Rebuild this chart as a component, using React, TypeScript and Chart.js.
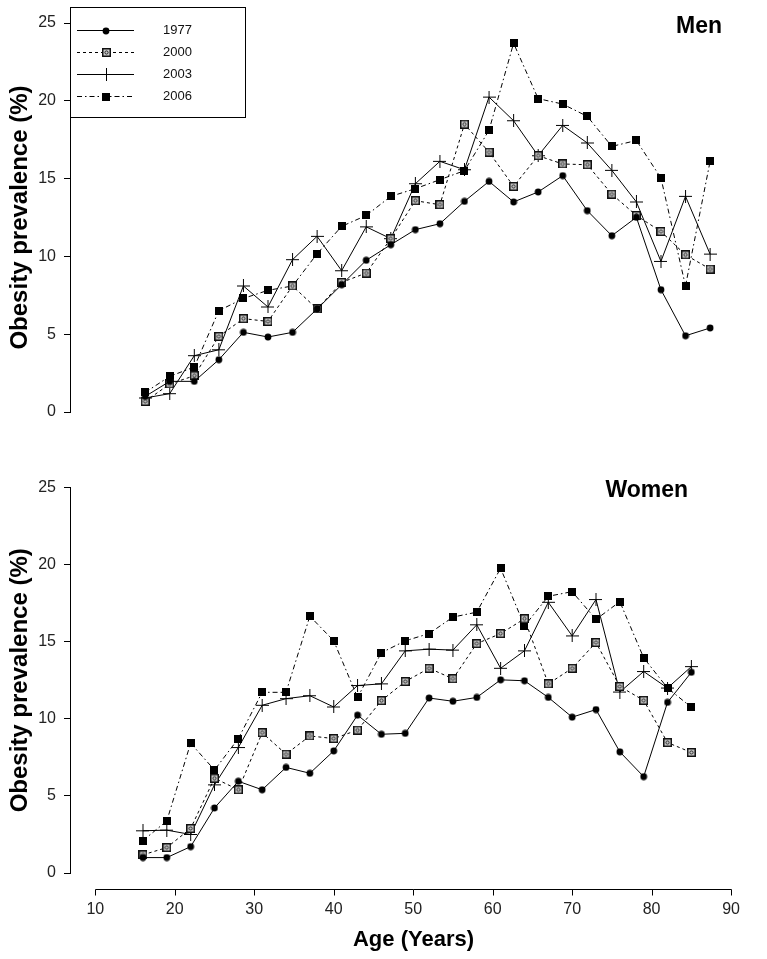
import React, { useEffect, useRef } from 'react';
import { Chart, registerables } from 'chart.js';

Chart.register(...registerables);

// ---------- data ----------
const ages = [16, 19, 22, 25, 28, 31, 34, 37, 40, 43, 46, 49, 52, 55, 58, 61, 64, 67, 70, 73, 76, 79, 82, 85];
const seriesNames = ['1977', '2000', '2003', '2006'];

const men1977 = [1.0, 1.97, 1.97, 3.36, 5.12, 4.82, 5.12, 6.62, 8.18, 9.75, 10.75, 11.72, 12.1, 13.54, 14.82, 13.5, 14.14, 15.19, 12.94, 11.33, 12.51, 7.86, 4.9, 5.4];
const men2000 = [0.68, 1.8, 2.33, 4.86, 6.0, 5.82, 8.1, 6.62, 8.33, 8.93, 11.14, 13.58, 13.32, 18.5, 16.7, 14.5, 16.47, 15.94, 15.89, 14.0, 12.63, 11.6, 10.1, 9.19];
const men2003 = [0.9, 1.18, 3.62, 4.0, 8.1, 6.75, 9.79, 11.29, 9.08, 11.9, 11.14, 14.67, 16.11, 15.57, 20.24, 18.72, 16.47, 18.42, 17.29, 15.53, 13.5, 9.68, 13.86, 10.15];
const men2006 = [1.26, 2.29, 2.89, 6.51, 7.3, 7.82, 8.1, 10.17, 11.93, 12.63, 13.86, 14.35, 14.93, 15.51, 18.1, 23.7, 20.14, 19.79, 19.0, 17.07, 17.45, 15.04, 8.1, 16.1];

const women1977 = [1.0, 1.0, 1.71, 4.22, 5.95, 5.4, 6.85, 6.47, 7.92, 10.24, 9.0, 9.06, 11.35, 11.14, 11.39, 12.53, 12.47, 11.39, 10.11, 10.6, 7.86, 6.25, 11.07, 13.02];
const women2000 = [1.18, 1.65, 2.89, 6.15, 5.4, 9.1, 7.71, 8.89, 8.72, 9.27, 11.18, 12.42, 13.28, 12.6, 14.88, 15.53, 16.49, 12.27, 13.28, 14.95, 12.1, 11.2, 8.46, 7.82];
const women2003 = [2.74, 2.78, 2.5, 5.72, 8.14, 10.88, 11.31, 11.5, 10.77, 12.16, 12.27, 14.41, 14.52, 14.46, 16.1, 13.28, 14.41, 17.56, 15.38, 17.74, 11.74, 13.07, 12.0, 13.39];
const women2006 = [2.1, 3.38, 8.42, 6.68, 8.72, 11.72, 11.72, 16.66, 15.06, 11.39, 14.29, 15.06, 15.53, 16.6, 16.92, 19.77, 16.02, 17.95, 18.25, 16.45, 17.6, 13.96, 12.0, 10.75];

const xTickValues = [10, 20, 30, 40, 50, 60, 70, 80, 90];
const yTickValues = [0, 5, 10, 15, 20, 25];

const yTitle = 'Obesity prevalence (%)';
const xTitle = 'Age (Years)';

// ---------- styles ----------
const SANS = "'Liberation Sans', Arial, sans-serif";
const dashes: number[][] = [[], [3, 3], [], [5, 3, 1.5, 3]];

function makeMarker(kind: number): HTMLCanvasElement {
  const c = document.createElement('canvas');
  const ctx = c.getContext('2d')!;
  if (kind === 0) {
    c.width = 8; c.height = 8;
    ctx.fillStyle = '#000';
    ctx.beginPath(); ctx.arc(4, 4, 3.4, 0, Math.PI * 2); ctx.fill();
  } else if (kind === 1) {
    c.width = 9; c.height = 9;
    ctx.fillStyle = '#111'; ctx.fillRect(0, 0, 9, 9);
    ctx.fillStyle = '#cfcfcf'; ctx.fillRect(1.5, 1.5, 6, 6);
    ctx.strokeStyle = '#222'; ctx.lineWidth = 1;
    ctx.beginPath(); ctx.arc(4.5, 4.5, 1.6, 0, Math.PI * 2); ctx.stroke();
  } else if (kind === 2) {
    c.width = 13; c.height = 13;
    ctx.strokeStyle = '#000'; ctx.lineWidth = 1;
    ctx.beginPath();
    ctx.moveTo(6.5, 0); ctx.lineTo(6.5, 13);
    ctx.moveTo(0, 6.5); ctx.lineTo(13, 6.5);
    ctx.stroke();
  } else {
    c.width = 8; c.height = 8;
    ctx.fillStyle = '#000'; ctx.fillRect(0, 0, 8, 8);
  }
  return c;
}

const decorPlugin = {
  id: 'decor',
  afterDraw(chart: any, _args: any, opts: any) {
    const { ctx, chartArea, scales } = chart;
    const xs = scales.x;
    ctx.save();
    // panel label
    ctx.fillStyle = '#000';
    ctx.font = `bold 23px ${SANS}`;
    ctx.textAlign = 'right';
    ctx.textBaseline = 'alphabetic';
    ctx.fillText(opts.label, chartArea.right - opts.labelInset, chartArea.top + opts.labelDrop);

    if (opts.showXAxis) {
      const yLine = Math.round(chartArea.bottom + 16) + 0.5;
      const x0 = Math.round(xs.getPixelForValue(xTickValues[0])) + 0.5;
      const x1 = Math.round(xs.getPixelForValue(xTickValues[xTickValues.length - 1])) + 0.5;
      ctx.strokeStyle = '#000';
      ctx.lineWidth = 1;
      ctx.beginPath();
      ctx.moveTo(x0, yLine); ctx.lineTo(x1, yLine);
      xTickValues.forEach((v) => {
        const px = Math.round(xs.getPixelForValue(v)) + 0.5;
        ctx.moveTo(px, yLine); ctx.lineTo(px, yLine + 6);
      });
      ctx.stroke();
      ctx.fillStyle = '#000';
      ctx.font = `bold 22px ${SANS}`;
      ctx.textAlign = 'center';
      ctx.textBaseline = 'middle';
      ctx.fillText(xTitle, (x0 + x1) / 2, chart.height - 19);
    }

    if (opts.showLegend) {
      const left = chartArea.left;
      const top = chartArea.top - 16;
      ctx.fillStyle = '#fff';
      ctx.fillRect(left, top, 175, 110);
      ctx.strokeStyle = '#000';
      ctx.lineWidth = 1;
      ctx.strokeRect(left + 0.5, top + 0.5, 175, 110);
      chart.data.datasets.forEach((ds: any, i: number) => {
        const y = Math.round(top + 23 + i * 22) + 0.5;
        ctx.strokeStyle = '#000';
        ctx.setLineDash(ds.borderDash || []);
        ctx.beginPath();
        ctx.moveTo(left + 7, y); ctx.lineTo(left + 64, y);
        ctx.stroke();
        ctx.setLineDash([]);
        const img = ds.pointStyle as HTMLCanvasElement;
        ctx.drawImage(img, Math.round(left + 36 - img.width / 2), Math.round(y - img.height / 2));
        ctx.fillStyle = '#111';
        ctx.font = `13px ${SANS}`;
        ctx.textAlign = 'left';
        ctx.textBaseline = 'middle';
        ctx.fillText(ds.label, left + 93, y);
      });
    }
    ctx.restore();
  },
};

type PanelProps = {
  top: number;
  height: number;
  series: number[][];
  label: string;
  labelInset: number;
  labelDrop: number;
  padTop: number;
  padBottom: number;
  showXAxis: boolean;
  showLegend: boolean;
};

function Panel(props: PanelProps) {
  const ref = useRef<HTMLCanvasElement | null>(null);
  useEffect(() => {
    if (!ref.current) return;
    const markers = [0, 1, 2, 3].map(makeMarker);
    const datasets = props.series.map((vals, i) => ({
      label: seriesNames[i],
      data: ages.map((a, j) => ({ x: a, y: vals[j] })),
      borderColor: '#000',
      backgroundColor: '#000',
      borderWidth: 1,
      borderDash: dashes[i],
      pointStyle: markers[i],
      pointRadius: 4,
      tension: 0,
      fill: false,
    }));
    const chart = new Chart(ref.current, {
      type: 'line',
      data: { datasets },
      plugins: [decorPlugin],
      options: {
        responsive: false,
        animation: false,
        events: [],
        layout: { padding: { left: 0, right: 16, top: props.padTop, bottom: props.padBottom } },
        plugins: {
          legend: { display: false },
          tooltip: { enabled: false },
          title: { display: false },
          decor: {
            label: props.label,
            labelInset: props.labelInset,
            labelDrop: props.labelDrop,
            showXAxis: props.showXAxis,
            showLegend: props.showLegend,
          },
        } as any,
        scales: {
          x: {
            type: 'linear',
            min: 6.82,
            max: 90,
            display: props.showXAxis,
            afterBuildTicks: (s: any) => { s.ticks = xTickValues.map((v) => ({ value: v })); },
            afterFit: (s: any) => { s.height = props.showXAxis ? 86 : 0; },
            grid: { display: false, drawTicks: false },
            border: { display: false },
            ticks: {
              color: '#222',
              font: { family: SANS, size: 16 },
              padding: 27,
              maxRotation: 0,
              autoSkip: false,
            },
          },
          y: {
            type: 'linear',
            min: 0,
            max: 25,
            afterBuildTicks: (s: any) => { s.ticks = yTickValues.map((v) => ({ value: v })); },
            afterFit: (s: any) => { s.width = 70; },
            grid: { display: true, drawOnChartArea: false, drawTicks: true, tickLength: 6, color: '#000' },
            border: { display: true, color: '#000', width: 1 },
            ticks: {
              color: '#222',
              font: { family: SANS, size: 16 },
              padding: 8,
            },
            title: {
              display: true,
              text: yTitle,
              color: '#000',
              font: { family: SANS, size: 24, weight: 'bold' },
              padding: { top: 6, bottom: 0 },
            },
          },
        },
      } as any,
    });
    return () => chart.destroy();
  }, []);
  return (
    <canvas
      ref={ref}
      width={767}
      height={props.height}
      style={{ position: 'absolute', left: 0, top: props.top, width: 767, height: props.height }}
    />
  );
}

export default function App() {
  return (
    <div style={{ position: 'fixed', left: 0, top: 0, width: 767, height: 959, background: '#fff' }}>
      <Panel
        top={0}
        height={440}
        series={[men1977, men2000, men2003, men2006]}
        label="Men"
        labelInset={29}
        labelDrop={10}
        padTop={23}
        padBottom={28}
        showXAxis={false}
        showLegend={true}
      />
      <Panel
        top={470}
        height={489}
        series={[women1977, women2000, women2003, women2006]}
        label="Women"
        labelInset={43}
        labelDrop={9}
        padTop={14}
        padBottom={0}
        showXAxis={true}
        showLegend={false}
      />
    </div>
  );
}
